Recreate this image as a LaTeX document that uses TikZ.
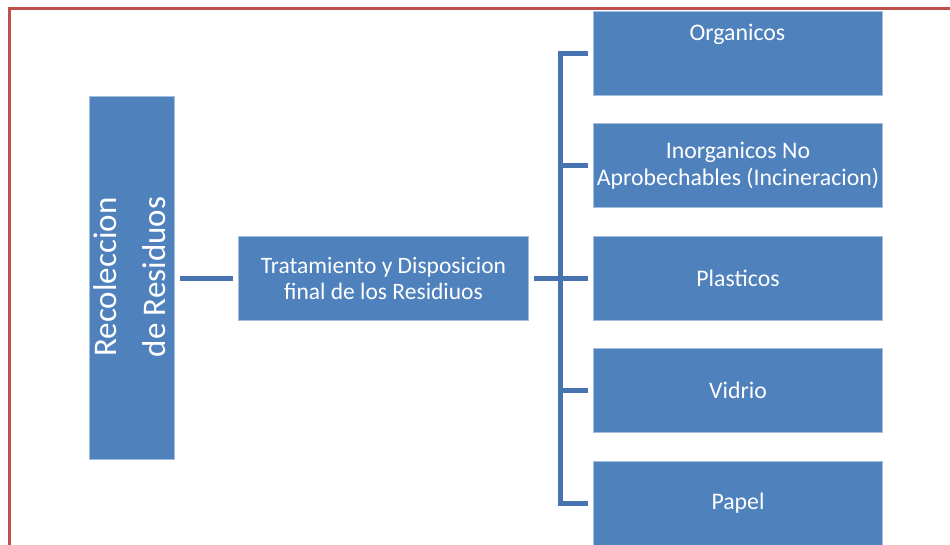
\documentclass[tikz,border=0pt]{standalone}
\usepackage{fontspec}
\setmainfont{Carlito}
\definecolor{boxblue}{HTML}{4F81BD}
\definecolor{boxedge}{HTML}{A5BDDD}
\definecolor{connblue}{HTML}{4774B0}
\definecolor{framered}{HTML}{C0504D}
\begin{document}
\begin{tikzpicture}[x=1pt,y=-1pt,
  bluebox/.style={draw=boxedge, line width=1pt, fill=boxblue, text=white, anchor=north west, inner sep=0pt, align=center},
  rightbox/.style={bluebox, minimum width=289pt, minimum height=84pt, font=\fontsize{23.8}{27.5}\selectfont},
  boxtext/.style={text=white, align=center, font=\fontsize{23.8}{27.5}\selectfont},
  conn/.style={draw=connblue, line width=5.5pt, line join=miter}]
\useasboundingbox (0,0) rectangle (950,544);
% frame
\draw[framered, line width=3pt] (9,560) -- (9,8) -- (950,8);
% boxes
\node[bluebox, minimum width=85pt, minimum height=363pt] (rec) at (89,96) {};
\node[boxtext, rotate=90, font=\fontsize{33}{49}\selectfont] (rect) at (130,277) {Recoleccion\\de Residuos};
\node[bluebox, minimum width=290pt, minimum height=84pt, font=\fontsize{23.5}{26}\selectfont] (mid) at (238,236) {Tratamiento y Disposicion\\final de los Residiuos};
\node[rightbox] (org) at (593,11) {};
\node[boxtext] (orgt) at (737.5,34) {Organicos};
\node[rightbox] (ino) at (593,123) {Inorganicos No\\Aprobechables (Incineracion)};
\node[rightbox] (pla) at (593,236) {Plasticos};
\node[rightbox] (vid) at (593,348) {Vidrio};
\node[rightbox] (pap) at (593,461) {Papel};
% connectors
\coordinate (bus) at (560.5,278);
\draw[conn, shorten <=5pt, shorten >=5pt] (rec.east |- mid.west) -- (mid.west);
\draw[conn] ([xshift=5pt]mid.east) -- ([xshift=-5pt]pla.west);
\draw[conn] ([xshift=-5pt]org.west) -| (bus) |- ([xshift=-5pt]pap.west);
\draw[conn] ([xshift=-5pt]ino.west) -- (ino.west -| bus);
\draw[conn] ([xshift=-5pt]vid.west) -- (vid.west -| bus);
\end{tikzpicture}
\end{document}
